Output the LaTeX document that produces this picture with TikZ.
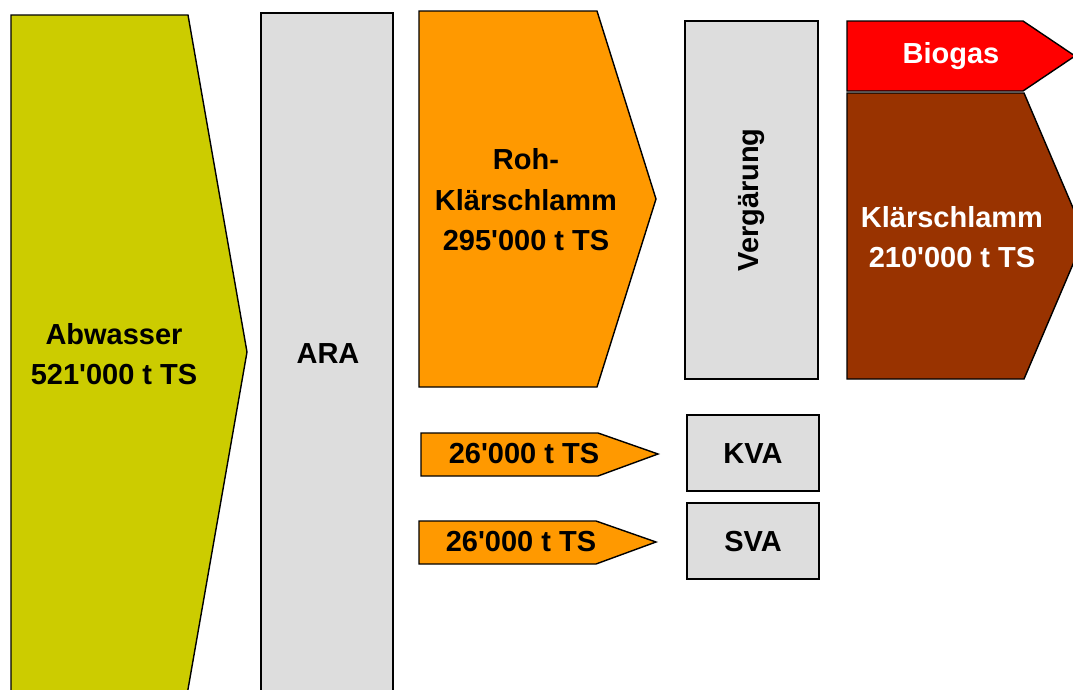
\documentclass[tikz,border=0pt]{standalone}
\usepackage{fontspec}
\setmainfont{Liberation Sans}[Ligatures=TeXOff]
\usepackage{tikz}

\definecolor{abwcol}{HTML}{CCCC00}
\definecolor{boxcol}{HTML}{DDDDDD}
\definecolor{rohcol}{HTML}{FF9900}
\definecolor{gascol}{HTML}{FF0000}
\definecolor{kscol}{HTML}{993300}

\begin{document}
\begin{tikzpicture}[
  x=0.02cm, y=-0.02cm,
  every node/.style={font=\fontsize{16.5}{23}\selectfont\bfseries},
  shp/.style={draw=black, line width=0.8pt, line join=miter},
  box/.style={shp, fill=boxcol},
  lbl/.style={align=center, inner sep=0pt},
  wlbl/.style={lbl, text=white},
]
\clip (0,0) rectangle (1073,690);

%% COLUMN 0 — Abwasser
\draw[shp, fill=abwcol]
  (11,15) -- (188,15) -- (247,352) -- (187,695) -- (11,695) -- cycle;
\node[lbl] (abwasser) at (114,354) {Abwasser\\521'000 t TS};

%% COLUMN 1 — ARA
\draw[box] (261,13) rectangle (393,700);
\node[lbl] (ara) at (328,354) {ARA};

%% COLUMN 2 — Roh-Klaerschlamm and the two side flows
\draw[shp, fill=rohcol]
  (419,11) -- (597,11) -- (656,199) -- (597,387) -- (419,387) -- cycle;
\node[lbl] (rohks) at (526,200) {Roh-\\Klärschlamm\\295'000 t TS};

\draw[shp, fill=rohcol]
  (421,433) -- (598,433) -- (658,454) -- (598,476) -- (421,476) -- cycle;
\node[lbl] (kvaflow) at (524,454) {26'000 t TS};

\draw[shp, fill=rohcol]
  (419,521) -- (596,521) -- (656,542) -- (596,564) -- (419,564) -- cycle;
\node[lbl] (svaflow) at (521,542) {26'000 t TS};

%% COLUMN 3 — Vergaerung, KVA, SVA
\draw[box] (685,21) rectangle (818,379);
\node[lbl, rotate=90] (verg) at (752,200) {Vergärung};

\draw[box] (687,415) rectangle (819,491);
\node[lbl] (kva) at (753,454) {KVA};

\draw[box] (687,503) rectangle (819,579);
\node[lbl] (sva) at (753,542) {SVA};

%% COLUMN 4 — Biogas and Klaerschlamm (cut at the right edge)
\draw[shp, fill=gascol]
  (847,21) -- (1023,21) -- (1075,56) -- (1023,91) -- (847,91) -- cycle;
\node[wlbl] (biogas) at (951,56) {Biogas};

\draw[shp, fill=kscol]
  (847,93) -- (1024,93) -- (1085,236) -- (1024,379) -- (847,379) -- cycle;
\node[wlbl] (ks) at (952,237) {Klärschlamm\\210'000 t TS};

\end{tikzpicture}
\end{document}
